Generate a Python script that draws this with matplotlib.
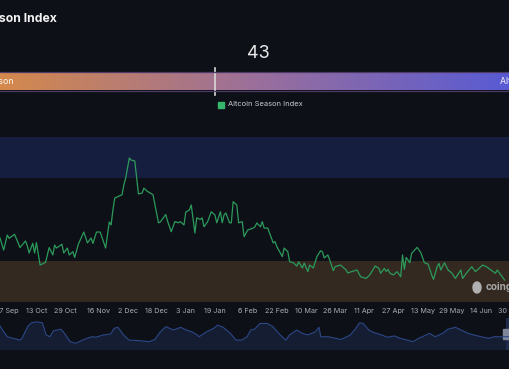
import numpy as np
import pandas as pd
import matplotlib
matplotlib.use("Agg")
import matplotlib.pyplot as plt
import matplotlib.dates as mdates
from matplotlib.colors import LinearSegmentedColormap
from matplotlib.patches import Rectangle, Ellipse

# Data (days counted from 23 Sep 2024)
start_date = "2024-09-23"
current_value = 43

line_days = [0, 2, 4, 5, 8, 11, 14, 15, 16, 18, 19, 20, 22, 25, 27, 29, 30, 31, 34, 35,
             37, 38, 40, 41, 43, 46, 48, 50, 51, 53, 55, 58, 60, 61, 62, 63, 67, 68, 69, 71,
             72, 74, 76, 78, 79, 81, 84, 87, 88, 91, 92, 94, 96, 98, 99, 101, 102, 104, 105, 107,
             108, 110, 111, 112, 114, 116, 118, 119, 121, 122, 123, 124, 126, 127, 128, 130, 131, 133, 134, 136,
             139, 140, 141, 143, 144, 145, 147, 150, 151, 152, 155, 156, 158, 159, 161, 163, 164, 166, 167, 169,
             170, 172, 174, 176, 177, 178, 180, 181, 183, 184, 187, 190, 191, 193, 196, 198, 201, 203, 206, 208,
             209, 211, 212, 213, 214, 216, 218, 220, 221, 222, 223, 225, 226, 229, 231, 233, 235, 237, 238, 240,
             241, 242, 244, 246, 248, 250, 253, 254, 256, 259, 261, 263, 265, 267, 269, 272, 273, 275, 277]
line_values = [38.8, 31.5, 40.6, 38.6, 41, 33, 37, 34, 29.7, 35.6, 29.7, 36, 22.4, 24, 33, 28.5, 34.5, 32.7, 35, 29.7,
               32.7, 28.5, 30.5, 27, 35, 42.4, 35.8, 38.8, 35.5, 42.4, 42.4, 32.7, 48.5, 46.7, 55.8, 63, 65, 71, 75, 87.3,
               86, 85.5, 65.5, 66, 69, 67, 65, 48, 48.5, 53, 49, 42.6, 48.7, 48, 48.7, 46.7, 54.5, 55.8, 58.8, 41.8,
               51, 50, 51, 45.6, 48.7, 54.7, 52.7, 48, 54.7, 48, 52.7, 54, 48, 48, 60.8, 58.8, 48, 48.7, 39.6, 43.6,
               44.8, 45.6, 47.9, 45.6, 48.7, 44.8, 44.8, 35.8, 36.6, 33.5, 27.5, 32.7, 30.5, 24.4, 23.8, 21.8, 24.4, 20.6, 23.6, 18.4,
               22.4, 20.6, 27.5, 31, 30.5, 26.7, 28.5, 25.5, 19, 21.4, 22.4, 19.4, 17.6, 18.4, 19.4, 15.3, 14.3, 16.4, 21.8, 20.4,
               17.4, 20.4, 18.5, 19.8, 17.5, 16.4, 18.4, 15.3, 28.5, 19.8, 27, 23.8, 29.5, 33.1, 30, 23.8, 23, 16.4, 13.7, 21.4,
               23.4, 19.4, 23.8, 19.4, 17.6, 14.3, 19.4, 14.3, 17.4, 21.4, 18.4, 20.4, 22.4, 21.4, 19.8, 17.4, 19.4, 16.4, 13.3]

nav_days = [0, 2, 4, 7, 11, 12, 15, 17, 20, 23, 25, 27, 29, 33, 35, 38, 41, 43, 47, 50,
            52, 56, 60, 62, 64, 67, 70, 76, 81, 84, 87, 90, 94, 98, 101, 104, 107, 108, 112, 116,
            118, 121, 125, 128, 131, 134, 136, 138, 141, 145, 148, 152, 155, 157, 161, 164, 167, 171, 173, 174,
            178, 182, 185, 190, 193, 195, 197, 200, 203, 207, 210, 214, 217, 221, 224, 227, 229, 233, 236, 240,
            243, 247, 250, 254, 257, 261, 265, 268, 272, 277]
nav_values = [75, 57, 41.5, 36.5, 31, 37.5, 73, 85, 88, 85, 47, 41.5, 60, 65, 52, 26, 21, 26, 36.5, 41.5,
              40, 47, 50, 68, 71, 47, 31, 29, 26, 33, 57, 73, 62.5, 71, 62.5, 57, 47, 41.5, 57, 68,
              78, 71, 52, 31, 31, 41.5, 62.5, 65, 83, 83, 73, 47, 31, 47, 62.5, 52, 47, 57, 71, 41.5,
              41.5, 36.5, 33, 47, 68, 85, 83, 62.5, 54, 47, 40, 44, 36.5, 31, 26, 36.5, 41.5, 52, 41.5, 52,
              65, 71, 62.5, 52, 47, 41.5, 36.5, 41.5, 41.5, 41.5]

tick_dates = ["2024-09-27", "2024-10-13", "2024-10-29", "2024-11-16", "2024-12-02", "2024-12-18",
              "2025-01-03", "2025-01-19", "2025-02-06", "2025-02-22", "2025-03-10", "2025-03-26",
              "2025-04-11", "2025-04-27", "2025-05-13", "2025-05-29", "2025-06-14", "2025-06-30"]
tick_labels = ["27 Sep", "13 Oct", "29 Oct", "16 Nov", "2 Dec", "18 Dec", "3 Jan", "19 Jan", "6 Feb",
               "22 Feb", "10 Mar", "26 Mar", "11 Apr", "27 Apr", "13 May", "29 May", "14 Jun", "30 Jun"]

bg = "#0d1017"
green = "#2c9a5b"
plt.rcParams["font.family"] = ["Inter", "DejaVu Sans"]

t0 = pd.Timestamp(start_date)
line_x = mdates.date2num(t0 + pd.to_timedelta(line_days, unit="D"))
nav_x = mdates.date2num(t0 + pd.to_timedelta(nav_days, unit="D"))
ticks_x = mdates.date2num(pd.to_datetime(tick_dates))
x_lo = mdates.date2num(t0)
x_hi = x_lo + 276.6

W, H = 510, 369
fig = plt.figure(figsize=(W / 100, H / 100), dpi=100, facecolor=bg)

# title (left part is cropped in the reference)
fig.text(57 / W, 1 - 19 / H, "Altcoin Season Index", ha="right", va="center",
         color="#f2f2f2", fontsize=8.8, fontweight="bold")

# gradient gauge bar
ax_bar = fig.add_axes([0, 1 - 90.5 / H, 1, 18.5 / H])
ax_bar.set_facecolor(bg)
cmap = LinearSegmentedColormap.from_list("season", ["#e08e3c", "#9a6f9c", "#4a56e0"])
ax_bar.imshow(np.linspace(0, 1, 512)[None, :], extent=(0, 100, 0, 1), aspect="auto", cmap=cmap)
ax_bar.set_xlim(7.98, 91.04)
ax_bar.set_ylim(0, 1)
ax_bar.set_xticks([])
ax_bar.set_yticks([])
for s in ["left", "right"]:
    ax_bar.spines[s].set_visible(False)
for s in ["top", "bottom"]:
    ax_bar.spines[s].set_color("#4d3a66")
    ax_bar.spines[s].set_linewidth(0.9)
ax_bar.text(0.2, 0.5, "Bitcoin Season", ha="left", va="center", color="#f5f5f5", fontsize=6.3)
ax_bar.text(99.4, 0.5, "Altcoin Season", ha="right", va="center", color="#f5f5f5", fontsize=6.3)
ax_bar.plot([current_value, current_value], [-0.24, 1.22], color="#d8d8d8", lw=1.2, clip_on=False)
ax_bar.text(50, 2.0, f"{current_value}", ha="center", va="center", color="#e8e8e8", fontsize=13)

# legend
fig.add_artist(Rectangle((218 / W, 1 - 107.5 / H), 6 / W, 6 / H, transform=fig.transFigure,
                         color="#36b86c"))
fig.text(228 / W, 1 - 104 / H, "Altcoin Season Index", ha="left", va="center",
         color="#c8cad0", fontsize=5.4)

# main chart
ax = fig.add_axes([0, 1 - 302 / H, 1, 165 / H])
ax.set_facecolor(bg)
ax.axhspan(75, 100, color="#161e3f", lw=0)
ax.axhspan(0, 25, color="#332920", lw=0)
ax.plot(line_x, line_values, color=green, lw=0.9)
ax.set_xlim(x_lo, x_hi)
ax.set_ylim(0, 100)
ax.set_yticks([])
ax.set_xticks(ticks_x)
ax.set_xticklabels(tick_labels)
ax.tick_params(axis="x", length=0, pad=4, labelsize=5.2, labelcolor="#a9acb4")
for s in ax.spines.values():
    s.set_visible(False)

# watermark
fig.add_artist(Ellipse((477 / W, 1 - 287.5 / H), 8 / W, 11 / H, transform=fig.transFigure,
                       color="#b0b0b0"))
fig.text(486 / W, 1 - 287.5 / H, "coingecko", ha="left", va="center", color="#a6a6a6",
         fontsize=7.2, fontweight="bold")

# navigator
nav = fig.add_axes([0, 1 - 350 / H, 1, 32 / H])
nav.set_facecolor(bg)
nav.fill_between(nav_x, nav_values, 0, color="#151d33", lw=0)
nav.plot(nav_x, nav_values, color="#2b4785", lw=0.8)
nav.axvspan(x_lo + 506 / 1.844, x_hi, color="#1f2a4c", lw=0)
nav.set_xlim(x_lo, x_hi)
nav.set_ylim(0, 100)
nav.set_xticks([])
nav.set_yticks([])
for s in nav.spines.values():
    s.set_visible(False)
nav.add_patch(Rectangle((0.987, 0.34), 0.011, 0.32, transform=nav.transAxes,
                        color="#80869a", clip_on=False))

fig.savefig("out.png", dpi=100, facecolor=bg)
